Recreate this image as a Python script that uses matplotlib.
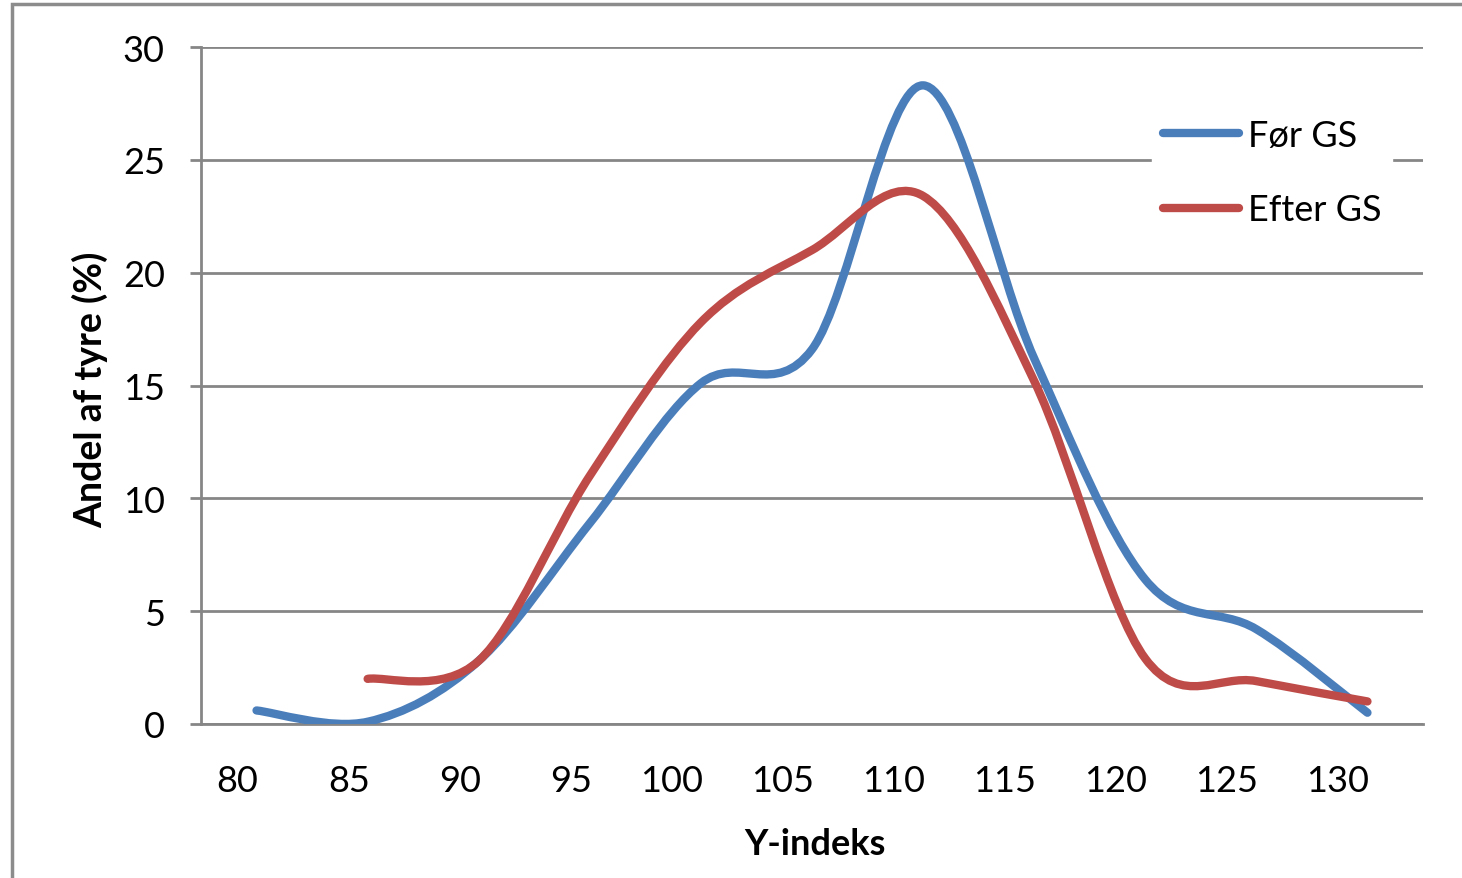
import numpy as np
import matplotlib.pyplot as plt
import matplotlib.transforms as mtransforms
from matplotlib.path import Path
from matplotlib.patches import PathPatch, Rectangle
from matplotlib.lines import Line2D

plt.rcParams['font.family'] = ['Lato', 'DejaVu Sans']

categories = ['80', '85', '90', '95', '100', '105', '110', '115', '120', '125', '130']
for_gs = [0.6, 0.1, 2.8, 8.9, 15.1, 16.6, 28.3, 16.2, 6.4, 4.2, 0.5]
efter_gs = [np.nan, 2.0, 2.8, 11.0, 17.8, 21.0, 23.4, 15.2, 2.9, 1.9, 1.0]

blue = '#4A7EBB'
red = '#BE4B48'
grid_col = '#868686'


def smooth_path(xs, ys):
    # Excel-style smoothed line: cubic bezier through the points
    pts = np.column_stack([xs, ys])
    pts = pts[~np.isnan(pts[:, 1])]
    n = len(pts)
    verts = [pts[0]]
    codes = [Path.MOVETO]
    for i in range(n - 1):
        p0 = pts[max(i - 1, 0)]
        p1 = pts[i]
        p2 = pts[i + 1]
        p3 = pts[min(i + 2, n - 1)]
        verts += [p1 + (p2 - p0) / 6, p2 - (p3 - p1) / 6, p2]
        codes += [Path.CURVE4] * 3
    return Path(verts, codes)


fig = plt.figure(figsize=(14.62, 8.79), dpi=100)
ax = fig.add_axes([201 / 1462, 1 - 725 / 879, 1222 / 1462, 677 / 879])

x = np.arange(len(categories))
for ys, col in [(for_gs, blue), (efter_gs, red)]:
    ax.add_patch(PathPatch(smooth_path(x, np.array(ys, dtype=float)), fill=False,
                           edgecolor=col, lw=6, capstyle='round', joinstyle='round',
                           zorder=3))

ax.set_xlim(-0.5, len(categories) - 0.5)
ax.set_ylim(0, 30)
ax.set_yticks(range(0, 31, 5))
ax.set_xticks(x)
ax.set_xticklabels(categories, ha='right')
ax.tick_params(axis='x', length=0, pad=29, labelsize=26)
ax.tick_params(axis='y', length=8, width=2, color=grid_col, pad=18, labelsize=26)
ax.grid(axis='y', color=grid_col, lw=2)
ax.set_axisbelow(True)
for s in ['top', 'right']:
    ax.spines[s].set_visible(False)
for s in ['left', 'bottom']:
    ax.spines[s].set_color(grid_col)
    ax.spines[s].set_linewidth(2)

# x tick labels end at the category centre
offset = mtransforms.ScaledTranslation(2 / 100, 0, fig.dpi_scale_trans)
for lbl in ax.get_xticklabels():
    lbl.set_transform(lbl.get_transform() + offset)

fig.text(815 / 1462, 1 - 845 / 879, 'Y-indeks', ha='center', va='center',
         fontsize=26, fontweight='bold')
fig.text(90 / 1462, 1 - 390 / 879, 'Andel af tyre (%)', ha='center', va='center',
         rotation=90, fontsize=27, fontweight='bold')

handles = [Line2D([], [], color=blue, lw=6, solid_capstyle='round'),
           Line2D([], [], color=red, lw=6, solid_capstyle='round')]
leg = fig.legend(handles, ['Før GS', 'Efter GS'], loc='upper left',
                 bbox_to_anchor=(1134 / 1462, 1 - 91 / 879), frameon=True,
                 fontsize=26, handlelength=2.1, handletextpad=0.25,
                 labelspacing=1.15, borderpad=0.3)
leg.get_frame().set_edgecolor('white')
leg.get_frame().set_facecolor('white')
leg.get_frame().set_alpha(1)

# outer chart frame
fig.patches.append(Rectangle((12 / 1462, -0.1), 1.2, (1 - 5 / 879) + 0.1,
                             transform=fig.transFigure, fill=False,
                             edgecolor='#8C8C8C', lw=2.5))

fig.savefig('out.png', dpi=100)
